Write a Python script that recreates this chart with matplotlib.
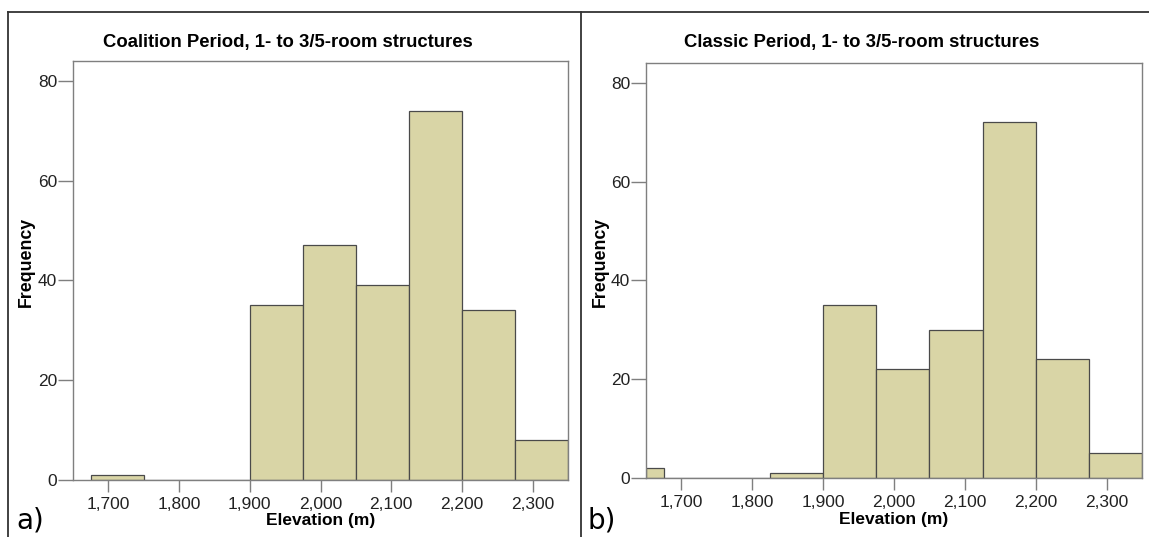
import numpy as np
import matplotlib
matplotlib.use("Agg")
import matplotlib.pyplot as plt
from matplotlib.ticker import FuncFormatter
from matplotlib.lines import Line2D

plt.rcParams['font.family'] = ['Liberation Sans', 'DejaVu Sans']

# histogram bin edges (m) and counts per bin
edges_a = [1675, 1750, 1825, 1900, 1975, 2050, 2125, 2200, 2275, 2350]
counts_a = [1, 0, 0, 35, 47, 39, 74, 34, 8]
edges_b = [1650, 1675, 1750, 1825, 1900, 1975, 2050, 2125, 2200, 2275, 2350]
counts_b = [2, 0, 0, 1, 35, 22, 30, 72, 24, 5]

title_a = "Coalition Period, 1- to 3/5-room structures"
title_b = "Classic Period, 1- to 3/5-room structures"
xticks = [1700, 1800, 1900, 2000, 2100, 2200, 2300]
yticks = [0, 20, 40, 60, 80]

bar_color = "#d9d5a6"
edge_color = "#4a4a4a"
axis_gray = "#7f7f7f"

W, H = 1149, 537
fig = plt.figure(figsize=(W / 100, H / 100), dpi=100)


def px_axes(l, t, r, b):
    return fig.add_axes([l / W, 1 - b / H, (r - l) / W, (b - t) / H])


def draw_hist(ax, edges, counts):
    edges = np.asarray(edges)
    ax.bar(edges[:-1], counts, width=np.diff(edges), align='edge',
           color=bar_color, edgecolor=edge_color, linewidth=0.9)
    ax.set_xlim(1650, 2350)
    ax.set_ylim(0, 84)
    ax.set_xticks(xticks)
    ax.set_yticks(yticks)
    ax.xaxis.set_major_formatter(FuncFormatter(lambda v, p: f"{int(v):,}"))
    for s in ax.spines.values():
        s.set_color(axis_gray)
        s.set_linewidth(1.0)
    ax.tick_params(direction='out', width=1.0, color=axis_gray,
                   labelsize=12.5, labelcolor="#222222")
    ax.tick_params(axis='x', length=8.5, pad=4)
    ax.tick_params(axis='y', length=10.5, pad=1)
    ax.set_xlabel("Elevation (m)", fontsize=12.5, fontweight='bold', labelpad=1)
    ax.set_ylabel("Frequency", fontsize=12.8, fontweight='bold')


ax1 = px_axes(73, 61, 568, 479.5)
draw_hist(ax1, edges_a, counts_a)
ax1.yaxis.set_label_coords(-0.077, 0.52)

ax2 = px_axes(646, 63, 1142, 478)
draw_hist(ax2, edges_b, counts_b)
ax2.yaxis.set_label_coords(-0.075, 0.52)

fig.text(288 / W, 1 - 42 / H, title_a, ha='center', va='center',
         fontsize=13.3, fontweight='bold')
fig.text(862 / W, 1 - 42 / H, title_b, ha='center', va='center',
         fontsize=13.3, fontweight='bold')

fig.text(16 / W, 1 - 528 / H, "a)", fontsize=20, family='DejaVu Sans',
         va='baseline', ha='left')
fig.text(588 / W, 1 - 528 / H, "b)", fontsize=20, family='DejaVu Sans',
         va='baseline', ha='left')

# outer frame lines
frame = dict(color="#333333", linewidth=1.3, transform=fig.transFigure)
fig.add_artist(Line2D([8 / W, 1], [1 - 11.5 / H] * 2, **frame))
fig.add_artist(Line2D([8 / W] * 2, [0, 1 - 11.5 / H], **frame))
fig.add_artist(Line2D([581 / W] * 2, [0, 1 - 11.5 / H], **frame))

fig.savefig("out.png", dpi=100)
